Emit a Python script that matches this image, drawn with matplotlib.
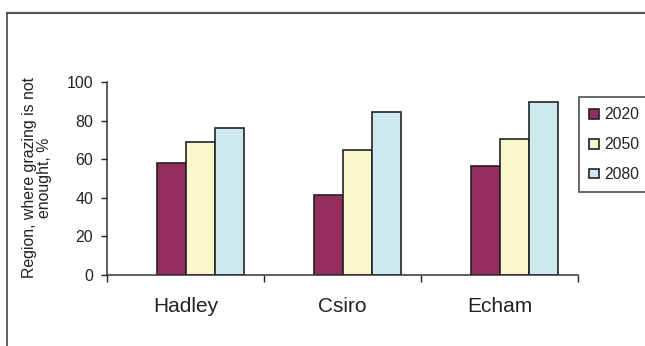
import numpy as np
import matplotlib.pyplot as plt
from matplotlib.lines import Line2D

models = ["Hadley", "Csiro", "Echam"]
years = ["2020", "2050", "2080"]
v2020 = [58, 41.5, 56.5]
v2050 = [69, 65, 70.3]
v2080 = [76.2, 84.5, 89.7]
colors = ["#952D5E", "#FAF7CD", "#CDE9F0"]

plt.rcParams['font.family'] = ['Liberation Sans', 'DejaVu Sans']
txt = "#222222"

fig = plt.figure(figsize=(6.45, 3.46), dpi=100)
ax = fig.add_axes([107/645, 1-275/346, (578-107)/645, (275-82)/346])

x = np.arange(len(models))
w = 0.185
shift = 0.095  # groups sit a bit right of the category centre
for i, (vals, c, lab) in enumerate(zip([v2020, v2050, v2080], colors, years)):
    ax.bar(x + shift + (i-1)*w, vals, w, color=c, edgecolor="#222222", linewidth=1.2, label=lab)

ax.set_xlim(-0.5, 2.5)
ax.set_ylim(0, 100)
ax.set_yticks(range(0, 101, 20))
ax.tick_params(axis='y', labelsize=11.5, colors=txt, length=4, width=1, pad=6)
ax.set_xticks([-0.5, 0.5, 1.5, 2.5])
ax.set_xticklabels([])
ax.tick_params(axis='x', which='major', length=5, width=1, direction='out', colors=txt)
ax.set_xticks(x, minor=True)
ax.set_xticklabels(models, minor=True, fontsize=15)
ax.tick_params(axis='x', which='minor', length=0, pad=16, colors=txt)
for s in ['top', 'right']:
    ax.spines[s].set_visible(False)
for s in ['left', 'bottom']:
    ax.spines[s].set_color("#333333")
    ax.spines[s].set_linewidth(1.1)

fig.text(37/645, 1-178/346, "Region, where grazing is not\nenought, %", rotation=90,
         ha='center', va='center', fontsize=11.4, color=txt, linespacing=1.0)

leg = fig.legend(loc='upper left', bbox_to_anchor=(579/645, 1-97/346), fontsize=11.3,
                 frameon=True, fancybox=False, handlelength=0.6, handleheight=0.6,
                 handletextpad=0.35, labelspacing=0.95, borderpad=0.65, borderaxespad=0)
leg.get_frame().set_edgecolor("#222222")
leg.get_frame().set_linewidth(1.2)
for t in leg.get_texts():
    t.set_color(txt)

# outer frame (top and left)
fig.add_artist(Line2D([7/645, 1], [1-13/346, 1-13/346], color="#555555", lw=1.6))
fig.add_artist(Line2D([7/645, 7/645], [0, 1-13/346], color="#555555", lw=1.3))

fig.savefig("out.png", dpi=100)
